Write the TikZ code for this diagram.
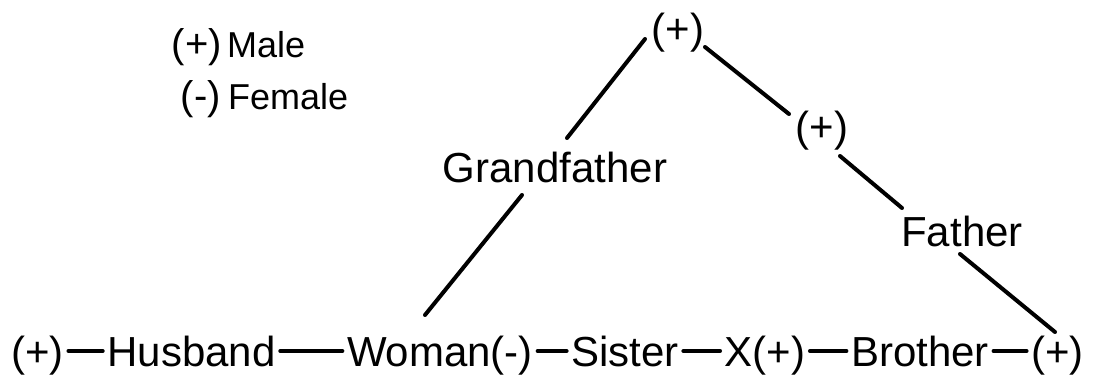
\documentclass[tikz,border=0pt]{standalone}
\usepackage{fontspec}
\setmainfont{Liberation Sans}
\usetikzlibrary{calc}
\begin{document}
\begin{tikzpicture}[x=1pt,y=-1pt,
  lbl/.style={inner sep=0pt, anchor=base, font=\fontsize{42}{50}\selectfont},
  rowlbl/.style={lbl, inner xsep=4.5pt, text height=30pt, text depth=0pt},
  legs/.style={inner sep=0pt, font=\fontsize{40}{48}\selectfont, anchor=base east},
  legw/.style={inner sep=0pt, font=\fontsize{36}{44}\selectfont, anchor=base west},
  link/.style={line width=4pt, line cap=round},
]
\useasboundingbox[fill=white] (0,0) rectangle (1094,377);

% legend
\node[legs] (lp) at (222,58) {(+)};
\node[legw] (lm) at (227,58) {Male};
\node[legs] (lq) at (221,110) {(-)};
\node[legw] (lf) at (228,110) {Female};

% tree nodes
\node[lbl] (top) at (678,44) {(+)};
\node[lbl] (gf)  at (555,182) {Grandfather};
\node[lbl] (mid) at (822,141) {(+)};
\node[lbl] (fa)  at (962,246) {Father};

% bottom row
\node[rowlbl] (p1)  at (37.5,366) {(+)};
\node[rowlbl] (hus) at (191.5,366) {Husband};
\node[rowlbl] (wom) at (440,366) {Woman(-)};
\node[rowlbl] (sis) at (625,366) {Sister};
\node[rowlbl] (xx)  at (765,366) {X(+)};
\node[rowlbl] (bro) at (920,366) {Brother};
\node[rowlbl] (p2)  at (1057.5,366) {(+)};

% bottom connectors
\draw[link] (p1) -- (hus);
\draw[link] (hus) -- (wom);
\draw[link] (wom) -- (sis);
\draw[link] (sis) -- (xx);
\draw[link] (xx) -- (bro);
\draw[link] (bro) -- (p2);

% diagonal connectors
\draw[link] ($(top.base)+(-33,-5)$) -- ($(gf.base)+(12,-44)$);
\draw[link] ($(gf.base)+(-33,13)$) -- ($(wom.base)+(-15,-51)$);
\draw[link] ($(top.base)+(27,3)$) -- ($(mid.base)+(-33,-27)$);
\draw[link] ($(mid.base)+(18,15)$) -- ($(fa.base)+(-60,-38)$);
\draw[link] ($(fa.base)+(-2,8)$) -- ($(p2.base)+(-2.5,-34)$);
\end{tikzpicture}
\end{document}
